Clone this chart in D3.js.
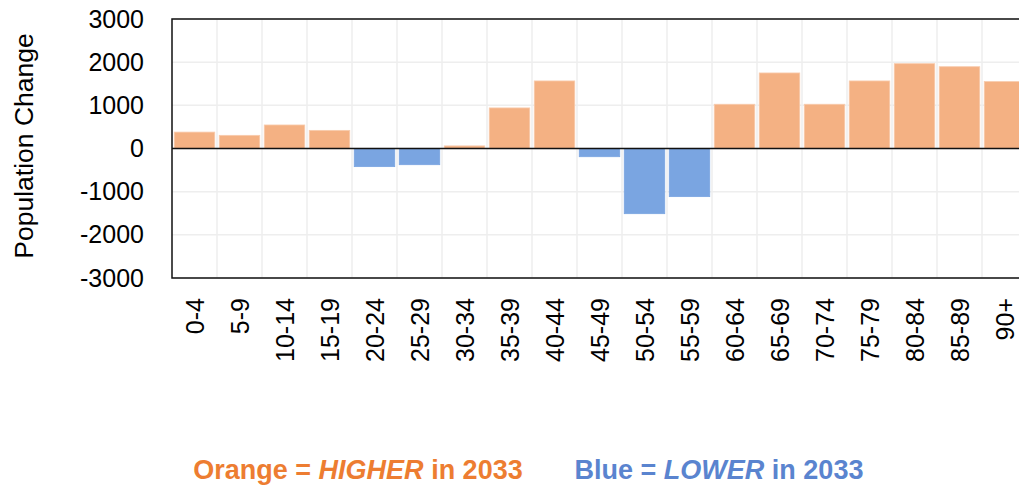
<!DOCTYPE html>
<html>
<head>
<meta charset="utf-8">
<script src="https://cdn.jsdelivr.net/npm/d3@7"></script>
<style>
  body { margin: 0; background: #fff; }
  text { font-family: "Liberation Sans", Arial, sans-serif; }
</style>
</head>
<body>
<div id="chart"></div>
<script>
// age groups and change in population (2033 vs now)
var ageGroups = ["0-4","5-9","10-14","15-19","20-24","25-29","30-34","35-39","40-44","45-49",
                 "50-54","55-59","60-64","65-69","70-74","75-79","80-84","85-89","90+"];
var popChange = [380, 305, 545, 420, -420, -375, 60, 940, 1565, -190,
                 -1510, -1115, 1025, 1750, 1025, 1565, 1965, 1895, 1550];
var yTicks = [-3000, -2000, -1000, 0, 1000, 2000, 3000];

const WIDTH = 1019, HEIGHT = 488;
const LEFT = 172, TOP = 19, BOTTOM = 278;
const STEP = 45;

var svg = d3.select("#chart").append("svg")
            .attr("width", WIDTH)
            .attr("height", HEIGHT);

var x = d3.scaleBand()
          .domain(ageGroups)
          .range([LEFT, LEFT + STEP * ageGroups.length])
          .paddingInner(0.1)
          .paddingOuter(0.05);

var y = d3.scaleLinear()
          .domain([-3000, 3000])
          .range([BOTTOM, TOP]);

var right = LEFT + STEP * ageGroups.length;

//gridlines
var grid = svg.append("g");
grid.selectAll(".hgrid")
    .data(yTicks)
    .enter().append("line")
    .attr("x1", LEFT).attr("x2", right)
    .attr("y1", d => y(d)).attr("y2", d => y(d))
    .attr("stroke", "#eeeeee")
    .attr("stroke-width", 1.5);

grid.selectAll(".vgrid")
    .data(d3.range(1, ageGroups.length + 1))
    .enter().append("line")
    .attr("x1", d => LEFT + d * STEP).attr("x2", d => LEFT + d * STEP)
    .attr("y1", TOP).attr("y2", BOTTOM)
    .attr("stroke", "#eeeeee")
    .attr("stroke-width", 1.5);

//bars
svg.append("g").selectAll("rect")
    .data(ageGroups)
    .enter().append("rect")
    .attr("x", (d) => x(d))
    .attr("width", x.bandwidth())
    .attr("y", (d, i) => y(Math.max(0, popChange[i])))
    .attr("height", (d, i) => Math.abs(y(popChange[i]) - y(0)))
    .attr("fill", (d, i) => popChange[i] >= 0 ? "#F4B183" : "#7AA5E1")
    .attr("stroke", (d, i) => popChange[i] >= 0 ? "#F8CBAD" : "#7AA5E1")
    .attr("stroke-width", 0.8);

//frame: top, left, bottom, zero line
svg.append("path")
    .attr("d", `M${right},${TOP}H${LEFT}V${BOTTOM}H${right}`)
    .attr("fill", "none")
    .attr("stroke", "#111")
    .attr("stroke-width", 1.5);

svg.append("line")
    .attr("x1", LEFT).attr("x2", right)
    .attr("y1", y(0)).attr("y2", y(0))
    .attr("stroke", "#111")
    .attr("stroke-width", 1.5);

//y axis labels
var yAxis = svg.append("g")
    .attr("transform", `translate(${LEFT},0)`)
    .call(d3.axisLeft(y).tickValues(yTicks).tickSize(0).tickPadding(28).tickFormat(d => String(d)));
yAxis.select(".domain").remove();
yAxis.selectAll("text")
    .style("font-family", "'Liberation Sans', Arial, sans-serif")
    .style("font-size", "25px")
    .attr("fill", "#000");

//x axis labels
svg.append("g").selectAll("text")
    .data(ageGroups)
    .enter().append("text")
    .attr("transform", d => `translate(${x(d) + x.bandwidth() / 2 + 9},298) rotate(-90)`)
    .style("text-anchor", "end")
    .style("font-size", "25px")
    .attr("fill", "#000")
    .text(d => d);

//y title
svg.append("text")
    .attr("transform", "translate(33,146) rotate(-90)")
    .style("text-anchor", "middle")
    .style("font-size", "26.5px")
    .attr("fill", "#000")
    .text("Population Change");

//legend text
var orangeNote = svg.append("text")
    .attr("x", 358).attr("y", 479)
    .style("text-anchor", "middle")
    .style("font-size", "27px")
    .style("font-weight", "bold")
    .attr("fill", "#ED7D31");
orangeNote.append("tspan").text("Orange = ");
orangeNote.append("tspan").style("font-style", "italic").text("HIGHER");
orangeNote.append("tspan").text(" in 2033");

var blueNote = svg.append("text")
    .attr("x", 719).attr("y", 479)
    .style("text-anchor", "middle")
    .style("font-size", "27px")
    .style("font-weight", "bold")
    .attr("fill", "#5A84CF");
blueNote.append("tspan").text("Blue = ");
blueNote.append("tspan").style("font-style", "italic").text("LOWER");
blueNote.append("tspan").text(" in 2033");
</script>
</body>
</html>
